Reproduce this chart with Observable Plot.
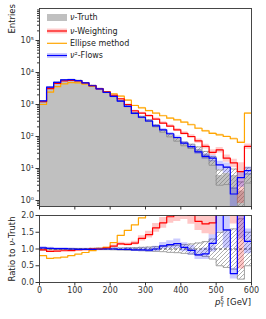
<!DOCTYPE html>
<html><head><meta charset="utf-8">
<script src="https://cdn.jsdelivr.net/npm/d3@7"></script>
<script src="https://cdn.jsdelivr.net/npm/@observablehq/plot@0.6"></script>
<style>
body{margin:0;background:#fff;font-family:"DejaVu Sans",sans-serif;}
#wrap{position:relative;width:266px;height:319px;overflow:hidden;background:#fff}
#panelTop,#panelBot,#over{position:absolute;left:0}
#panelTop{top:0}
#panelBot{top:210px}
#over{top:0;pointer-events:none}
svg{overflow:visible}
</style></head><body>
<div id="wrap"><div id="panelTop"></div><div id="panelBot"></div><svg id="over" width="266" height="319"></svg></div>
<script>
// ---- data (20 GeV bins, 0-600 GeV) ----
const edges = [0,20,40,60,80,100,120,140,160,180,200,220,240,260,280,300,320,340,360,380,400,420,440,460,480,500,520,540,560,580,600];
const truth     = [1250,3400,4900,5800,6000,5600,4800,3900,3100,2400,1800,1300,880,540,410,315,215,148,108,80,59,50,40,28,18,6,7,6,2,7];
const weighting = [1220,3150,4600,5500,5700,5450,4700,3900,3100,2470,1950,1500,1000,635,540,450,350,263,212,162,126,100,73,49,32,38,21,15,8,49];
const ellipse   = [1000,2450,3600,4400,4800,4750,4300,3700,3160,2520,2140,1830,1370,930,790,640,535,445,375,330,280,233,181,150,126,113,100,85,66,535];
const flows     = [1290,3470,4950,5850,6000,5550,4750,3850,3100,2400,1800,1280,870,525,400,305,215,162,122,93,62,48,33,24,21,13,11,1.6,5.2,8.6];
// relative uncertainties (half widths)
const truthErr     = [0.03,0.02,0.015,0.015,0.015,0.015,0.015,0.02,0.02,0.02,0.025,0.03,0.035,0.04,0.05,0.06,0.07,0.08,0.1,0.11,0.13,0.15,0.18,0.22,0.3,0.5,0.55,0.6,0.9,0.5];
const weightingErr = [0.03,0.02,0.02,0.02,0.02,0.02,0.02,0.02,0.03,0.03,0.03,0.04,0.04,0.05,0.06,0.07,0.08,0.09,0.1,0.1,0.12,0.13,0.15,0.17,0.2,0.2,0.25,0.3,0.9,0.2];
const ellipseErr   = [0.02,0.02,0.02,0.02,0.02,0.02,0.02,0.02,0.02,0.02,0.02,0.02,0.03,0.03,0.03,0.03,0.03,0.04,0.04,0.04,0.04,0.05,0.05,0.05,0.06,0.06,0.06,0.07,0.08,0.03];
const flowsErr     = [0.04,0.03,0.03,0.03,0.03,0.03,0.03,0.03,0.03,0.03,0.04,0.04,0.05,0.05,0.06,0.07,0.08,0.09,0.1,0.12,0.13,0.15,0.17,0.2,0.22,0.3,0.35,0.6,0.5,0.3];
const yMajor = [1,10,100,1000,10000,100000];
const xTicks = [0,100,200,300,400,500,600];
const rTicks = [0,0.5,1,1.5,2];
const labels = ["\u03bd-Truth","\u03bd-Weighting","Ellipse method","\u03bd\u00b2-Flows"];
const colors = {truth:"#c0c0c0", weighting:"#ff0000", ellipse:"#ffa500", flows:"#0000ff"};

(function(){
function stepPts(v){const p=[];v.forEach((y,i)=>{p.push({x:edges[i],y});p.push({x:edges[i+1],y});});return p;}
function bandPts(lo,hi){const p=[];lo.forEach((a,i)=>{p.push({x:edges[i],y1:a,y2:hi[i]});p.push({x:edges[i+1],y1:a,y2:hi[i]});});return p;}
const lo=(v,e)=>v.map((d,i)=>d*(1-e[i]));
const hi=(v,e)=>v.map((d,i)=>d*(1+e[i]));
const ratio=(v)=>v.map((d,i)=>d/truth[i]);
const sup = n => String(n).split("").map(c=>"\u2070\u00b9\u00b2\u00b3\u2074\u2075\u2076\u2077\u2078\u2079"[+c]).join("");

const yMin = 0.65, yMax = 1e6;
const minor=[];
for(let k=-1;k<6;k++)for(let m=2;m<10;m++){const v=m*10**k;if(v>yMin&&v<yMax)minor.push(v);}

const lw = 1.2;
const axisColor = "#333";
const style = {fontSize:"8px",fontFamily:"DejaVu Sans, sans-serif",color:axisColor,background:"transparent"};

const topSvg = Plot.plot({
  width:266, height:210, marginLeft:39, marginRight:15, marginTop:8, marginBottom:4,
  style,
  x:{domain:[0,600]},
  y:{type:"log", domain:[yMin,yMax]},
  marks:[
    Plot.areaY(stepPts(truth).map(d=>({x:d.x,y1:yMin,y2:d.y})),{x:"x",y1:"y1",y2:"y2",fill:colors.truth,clip:true}),
    Plot.areaY(bandPts(lo(truth,truthErr),hi(truth,truthErr)),{x:"x",y1:"y1",y2:"y2",fill:"url(#hatchA)",clip:true}),
    Plot.line(stepPts(lo(truth,truthErr)),{x:"x",y:"y",stroke:"#8a8a8a",strokeWidth:0.8,clip:true}),
    Plot.line(stepPts(hi(truth,truthErr)),{x:"x",y:"y",stroke:"#8a8a8a",strokeWidth:0.8,clip:true}),
    Plot.areaY(bandPts(lo(ellipse,ellipseErr),hi(ellipse,ellipseErr)),{x:"x",y1:"y1",y2:"y2",fill:colors.ellipse,fillOpacity:0.25,clip:true}),
    Plot.areaY(bandPts(lo(weighting,weightingErr),hi(weighting,weightingErr)),{x:"x",y1:"y1",y2:"y2",fill:colors.weighting,fillOpacity:0.2,clip:true}),
    Plot.areaY(bandPts(lo(flows,flowsErr),hi(flows,flowsErr)),{x:"x",y1:"y1",y2:"y2",fill:colors.flows,fillOpacity:0.2,clip:true}),
    Plot.line(stepPts(ellipse),{x:"x",y:"y",stroke:colors.ellipse,strokeWidth:lw,clip:true}),
    Plot.line(stepPts(weighting),{x:"x",y:"y",stroke:colors.weighting,strokeWidth:lw,clip:true}),
    Plot.line(stepPts(flows),{x:"x",y:"y",stroke:colors.flows,strokeWidth:lw,clip:true}),
    Plot.axisY(yMajor,{tickSize:3.5,tickPadding:2,tickFormat:d=>"10"+sup(Math.round(Math.log10(d))),label:null}),
    Plot.axisY(minor,{tickSize:2,tickFormat:()=>"",label:null}),
    Plot.axisX(xTicks,{tickSize:3.5,tickFormat:()=>"",label:null}),
    Plot.frame({stroke:axisColor,strokeWidth:0.9})
  ]
});
document.getElementById("panelTop").append(topSvg);

const rLoT = truthErr.map(e=>1-e), rHiT = truthErr.map(e=>1+e);
const botSvg = Plot.plot({
  width:266, height:109, marginLeft:39, marginRight:15, marginTop:5, marginBottom:37,
  style,
  x:{domain:[0,600]},
  y:{domain:[0,2]},
  marks:[
    Plot.areaY(bandPts(rLoT,rHiT),{x:"x",y1:"y1",y2:"y2",fill:"url(#hatchB)",clip:true}),
    Plot.line(stepPts(rLoT),{x:"x",y:"y",stroke:"#8a8a8a",strokeWidth:0.8,clip:true}),
    Plot.line(stepPts(rHiT),{x:"x",y:"y",stroke:"#8a8a8a",strokeWidth:0.8,clip:true}),
    Plot.ruleY([1],{stroke:"#333",strokeWidth:0.8,strokeDasharray:"3,2"}),
    Plot.areaY(bandPts(ratio(lo(weighting,weightingErr)),ratio(hi(weighting,weightingErr))),{x:"x",y1:"y1",y2:"y2",fill:colors.weighting,fillOpacity:0.22,clip:true}),
    Plot.areaY(bandPts(ratio(lo(flows,flowsErr)),ratio(hi(flows,flowsErr))),{x:"x",y1:"y1",y2:"y2",fill:colors.flows,fillOpacity:0.2,clip:true}),
    Plot.line(stepPts(ratio(ellipse)),{x:"x",y:"y",stroke:colors.ellipse,strokeWidth:lw,clip:true}),
    Plot.line(stepPts(ratio(weighting)),{x:"x",y:"y",stroke:colors.weighting,strokeWidth:lw,clip:true}),
    Plot.line(stepPts(ratio(flows)),{x:"x",y:"y",stroke:colors.flows,strokeWidth:lw,clip:true}),
    Plot.axisY(rTicks,{tickSize:3.5,tickPadding:2,tickFormat:d=>d.toFixed(1),label:null}),
    Plot.axisX(xTicks,{tickSize:3.5,tickPadding:1.5,tickFormat:d=>String(d),label:null}),
    Plot.frame({stroke:axisColor,strokeWidth:0.9})
  ]
});
document.getElementById("panelBot").append(botSvg);

const hatch = id => `<defs><pattern id="${id}" patternUnits="userSpaceOnUse" width="4" height="4"><path d="M-1,1 l2,-2 M0,4 l4,-4 M3,5 l2,-2" stroke="#777" stroke-width="0.6"/></pattern></defs>`;
topSvg.insertAdjacentHTML("afterbegin",hatch("hatchA"));
botSvg.insertAdjacentHTML("afterbegin",hatch("hatchB"));

const o = d3.select("#over").style("font-family","DejaVu Sans, sans-serif").style("fill","#222");
function rich(sel, str){
  str.split(/(\u03bd)/).forEach(part=>{ if(!part) return; const t=sel.append("tspan").text(part); if(part==="\u03bd") t.attr("font-style","italic"); });
}
o.append("text").attr("transform","translate(15,4) rotate(-90)").attr("text-anchor","end").attr("font-size","8.5px").text("Entries");
rich(o.append("text").attr("transform","translate(15,249) rotate(-90)").attr("text-anchor","middle").attr("font-size","8.5px"), "Ratio to \u03bd-Truth");
const xl = o.append("text").attr("x",251).attr("y",305).attr("text-anchor","end").attr("font-size","8.5px");
xl.append("tspan").attr("font-style","italic").text("p");
xl.append("tspan").attr("font-size","6px").attr("dy",-3.8).text("\u03be");
xl.append("tspan").attr("font-size","6px").attr("dx",-3.5).attr("dy",6).text("T");
xl.append("tspan").attr("dy",-2.2).text(" [GeV]");

const lx = 47, lw2 = 20, rows=[17.5,31,43.3,55.5];
o.append("rect").attr("x",lx).attr("y",rows[0]-3.5).attr("width",lw2).attr("height",7).attr("fill",colors.truth);
o.append("rect").attr("x",lx).attr("y",rows[1]-2.5).attr("width",lw2).attr("height",5).attr("fill",colors.weighting).attr("fill-opacity",0.2);
o.append("line").attr("x1",lx).attr("x2",lx+lw2).attr("y1",rows[1]).attr("y2",rows[1]).attr("stroke",colors.weighting).attr("stroke-width",lw);
o.append("line").attr("x1",lx).attr("x2",lx+lw2).attr("y1",rows[2]).attr("y2",rows[2]).attr("stroke",colors.ellipse).attr("stroke-width",lw);
o.append("rect").attr("x",lx).attr("y",rows[3]-2.5).attr("width",lw2).attr("height",5).attr("fill",colors.flows).attr("fill-opacity",0.2);
o.append("line").attr("x1",lx).attr("x2",lx+lw2).attr("y1",rows[3]).attr("y2",rows[3]).attr("stroke",colors.flows).attr("stroke-width",lw);
labels.forEach((t,i)=>rich(o.append("text").attr("x",70).attr("y",rows[i]).attr("dy","0.35em").attr("font-size","8px"), t));
})();
</script>
</body></html>
